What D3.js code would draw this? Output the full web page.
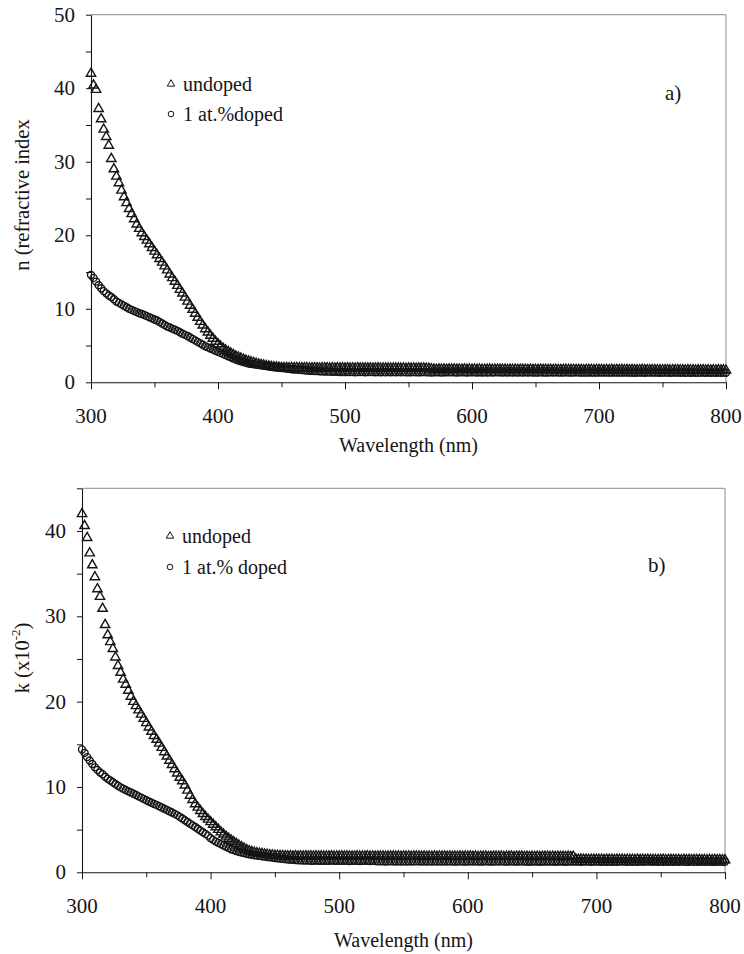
<!DOCTYPE html>
<html>
<head>
<meta charset="utf-8">
<script src="https://cdn.jsdelivr.net/npm/d3@7/dist/d3.min.js"></script>
<style>
body { margin: 0; background: #fff; }
</style>
</head>
<body>
<svg id="chart" width="744" height="954"></svg>
<script>
// measurement grid (nm), 2 nm step
var wavelength = d3.range(300, 801, 2);

// a) refractive index n
var nUndoped = [
/*300*/ 42.0,40.4,39.8,37.2,35.8,34.4,33.4,32.2,30.4,29.0,
/*320*/ 28.0,27.1,26.1,25.2,24.4,23.6,22.9,22.2,21.5,20.9,
/*340*/ 20.3,19.8,19.3,18.8,18.3,17.8,17.3,16.8,16.3,15.8,
/*360*/ 15.25,14.7,14.2,13.7,13.15,12.6,12.1,11.55,11.0,10.45,
/*380*/ 9.9,9.35,8.8,8.25,7.75,7.25,6.8,6.35,5.95,5.55,
/*400*/ 5.2,4.88,4.6,4.35,4.15,3.95,3.75,3.55,3.4,3.25,
/*420*/ 3.1,2.95,2.85,2.75,2.65,2.55,2.45,2.38,2.3,2.23,
/*440*/ 2.17,2.12,2.08,2.04,2.0,1.98,1.96,1.97,1.95,1.96,
/*460*/ 1.94,1.96,1.93,1.95,1.94,1.96,1.92,1.95,1.93,1.94,
/*480*/ 1.92,1.94,1.93,1.95,1.91,1.93,1.92,1.94,1.91,1.93,
/*500*/ 1.92,1.93,1.9,1.92,1.91,1.93,1.9,1.92,1.91,1.92,
/*520*/ 1.9,1.92,1.91,1.93,1.89,1.91,1.9,1.92,1.89,1.91,
/*540*/ 1.9,1.91,1.89,1.91,1.88,1.9,1.89,1.91,1.88,1.9,
/*560*/ 1.89,1.9,1.88,1.86,1.8,1.76,1.74,1.76,1.75,1.76,
/*580*/ 1.74,1.76,1.75,1.77,1.73,1.75,1.74,1.76,1.73,1.75,
/*600*/ 1.74,1.75,1.73,1.75,1.72,1.74,1.73,1.75,1.72,1.74,
/*620*/ 1.73,1.74,1.72,1.74,1.71,1.73,1.72,1.74,1.71,1.73,
/*640*/ 1.72,1.73,1.71,1.73,1.7,1.72,1.71,1.73,1.7,1.72,
/*660*/ 1.71,1.72,1.7,1.72,1.69,1.71,1.7,1.72,1.69,1.71,
/*680*/ 1.7,1.71,1.69,1.71,1.68,1.7,1.69,1.71,1.68,1.7,
/*700*/ 1.69,1.7,1.68,1.7,1.67,1.69,1.68,1.7,1.67,1.69,
/*720*/ 1.68,1.69,1.67,1.69,1.66,1.68,1.67,1.69,1.66,1.68,
/*740*/ 1.67,1.68,1.66,1.68,1.65,1.67,1.66,1.68,1.65,1.67,
/*760*/ 1.66,1.67,1.65,1.67,1.64,1.66,1.65,1.67,1.64,1.66,
/*780*/ 1.65,1.66,1.64,1.66,1.63,1.65,1.64,1.66,1.63,1.65,
/*800*/ 1.62
];
var nDoped = [
/*300*/ 14.6,14.2,13.7,13.2,12.8,12.4,12.1,11.8,11.6,11.3,
/*320*/ 11.0,10.8,10.6,10.4,10.2,10.0,9.85,9.7,9.55,9.4,
/*340*/ 9.3,9.15,9.0,8.85,8.7,8.55,8.4,8.2,8.0,7.8,
/*360*/ 7.6,7.45,7.3,7.15,7.0,6.8,6.6,6.45,6.3,6.1,
/*380*/ 5.9,5.7,5.5,5.3,5.1,4.9,4.75,4.6,4.45,4.3,
/*400*/ 4.15,4.0,3.85,3.7,3.55,3.4,3.25,3.1,2.95,2.85,
/*420*/ 2.75,2.65,2.55,2.5,2.45,2.4,2.35,2.3,2.25,2.2,
/*440*/ 2.15,2.1,2.05,2.01,1.98,1.94,1.9,1.86,1.82,1.78,
/*460*/ 1.75,1.72,1.69,1.66,1.63,1.6,1.58,1.56,1.54,1.52,
/*480*/ 1.5,1.48,1.47,1.46,1.45,1.44,1.43,1.42,1.41,1.4,
/*500*/ 1.39,1.41,1.38,1.4,1.37,1.39,1.38,1.4,1.37,1.39,
/*520*/ 1.38,1.4,1.37,1.39,1.36,1.38,1.37,1.39,1.36,1.38,
/*540*/ 1.37,1.39,1.36,1.38,1.35,1.37,1.36,1.38,1.35,1.37,
/*560*/ 1.36,1.38,1.35,1.37,1.34,1.36,1.35,1.37,1.34,1.36,
/*580*/ 1.36,1.37,1.35,1.37,1.34,1.36,1.35,1.37,1.34,1.36,
/*600*/ 1.35,1.37,1.34,1.36,1.33,1.35,1.34,1.36,1.33,1.35,
/*620*/ 1.35,1.36,1.34,1.36,1.33,1.35,1.34,1.36,1.33,1.35,
/*640*/ 1.34,1.36,1.33,1.35,1.32,1.34,1.33,1.35,1.32,1.34,
/*660*/ 1.34,1.35,1.33,1.35,1.32,1.34,1.33,1.35,1.32,1.34,
/*680*/ 1.33,1.35,1.32,1.34,1.31,1.33,1.32,1.34,1.31,1.33,
/*700*/ 1.33,1.34,1.32,1.34,1.31,1.33,1.32,1.34,1.31,1.33,
/*720*/ 1.32,1.34,1.31,1.33,1.3,1.32,1.31,1.33,1.3,1.32,
/*740*/ 1.32,1.33,1.31,1.33,1.3,1.32,1.31,1.33,1.3,1.32,
/*760*/ 1.31,1.33,1.3,1.32,1.29,1.31,1.3,1.32,1.29,1.31,
/*780*/ 1.31,1.32,1.3,1.32,1.29,1.31,1.3,1.32,1.29,1.31,
/*800*/ 1.3
];

// b) extinction coefficient k (x10^-2)
var kUndoped = [
/*300*/ 42.0,40.6,39.2,37.4,36.0,34.6,33.2,32.3,30.9,29.0,
/*320*/ 27.8,27.0,26.2,25.2,24.2,23.4,22.6,22.0,21.3,20.6,
/*340*/ 20.0,19.5,19.0,18.5,18.0,17.5,17.0,16.5,16.0,15.55,
/*360*/ 15.1,14.6,14.1,13.6,13.1,12.6,12.1,11.6,11.1,10.7,
/*380*/ 10.2,9.6,9.0,8.5,8.0,7.6,7.2,6.85,6.5,6.2,
/*400*/ 5.9,5.6,5.3,5.0,4.7,4.45,4.2,3.95,3.75,3.55,
/*420*/ 3.35,3.15,2.95,2.8,2.65,2.5,2.4,2.32,2.25,2.2,
/*440*/ 2.16,2.11,2.07,2.03,2.0,1.97,1.95,1.93,1.92,1.9,
/*460*/ 1.89,1.9,1.88,1.9,1.87,1.89,1.88,1.9,1.87,1.89,
/*480*/ 1.88,1.89,1.87,1.89,1.86,1.88,1.87,1.89,1.86,1.88,
/*500*/ 1.88,1.89,1.87,1.89,1.86,1.88,1.87,1.89,1.86,1.88,
/*520*/ 1.87,1.89,1.86,1.88,1.85,1.87,1.86,1.88,1.85,1.87,
/*540*/ 1.87,1.88,1.86,1.88,1.85,1.87,1.86,1.88,1.85,1.87,
/*560*/ 1.86,1.88,1.85,1.87,1.84,1.86,1.85,1.87,1.84,1.86,
/*580*/ 1.86,1.87,1.85,1.87,1.84,1.86,1.85,1.87,1.84,1.86,
/*600*/ 1.85,1.87,1.84,1.86,1.83,1.85,1.84,1.86,1.83,1.85,
/*620*/ 1.85,1.86,1.84,1.86,1.83,1.85,1.84,1.86,1.83,1.85,
/*640*/ 1.84,1.86,1.83,1.85,1.82,1.84,1.83,1.85,1.82,1.84,
/*660*/ 1.84,1.85,1.83,1.85,1.82,1.84,1.83,1.85,1.82,1.84,
/*680*/ 1.83,1.84,1.52,1.5,1.51,1.49,1.5,1.48,1.5,1.49,
/*700*/ 1.5,1.48,1.49,1.47,1.49,1.48,1.5,1.47,1.49,1.48,
/*720*/ 1.49,1.47,1.48,1.46,1.48,1.47,1.49,1.46,1.48,1.47,
/*740*/ 1.48,1.46,1.47,1.45,1.47,1.46,1.48,1.45,1.47,1.46,
/*760*/ 1.47,1.45,1.46,1.44,1.46,1.45,1.47,1.44,1.46,1.45,
/*780*/ 1.46,1.44,1.45,1.43,1.45,1.44,1.46,1.43,1.45,1.44,
/*800*/ 1.43
];
var kDoped = [
/*300*/ 14.4,14.0,13.5,13.1,12.7,12.3,12.0,11.7,11.5,11.2,
/*320*/ 10.95,10.75,10.55,10.35,10.15,9.95,9.8,9.65,9.5,9.35,
/*340*/ 9.2,9.05,8.9,8.75,8.6,8.45,8.3,8.15,8.0,7.9,
/*360*/ 7.75,7.6,7.45,7.3,7.15,7.0,6.85,6.7,6.5,6.3,
/*380*/ 6.1,5.9,5.7,5.5,5.3,5.1,4.9,4.7,4.5,4.3,
/*400*/ 4.0,3.8,3.6,3.45,3.3,3.15,3.0,2.85,2.7,2.6,
/*420*/ 2.5,2.4,2.32,2.25,2.18,2.12,2.06,2.0,1.96,1.92,
/*440*/ 1.88,1.84,1.8,1.76,1.72,1.68,1.64,1.6,1.57,1.54,
/*460*/ 1.51,1.48,1.46,1.44,1.42,1.4,1.39,1.38,1.37,1.36,
/*480*/ 1.36,1.37,1.35,1.36,1.34,1.36,1.35,1.37,1.34,1.36,
/*500*/ 1.35,1.36,1.34,1.36,1.33,1.35,1.34,1.36,1.33,1.35,
/*520*/ 1.34,1.35,1.33,1.35,1.32,1.3,1.28,1.3,1.27,1.29,
/*540*/ 1.28,1.3,1.27,1.29,1.26,1.28,1.27,1.29,1.26,1.28,
/*560*/ 1.28,1.29,1.27,1.29,1.26,1.28,1.27,1.29,1.26,1.28,
/*580*/ 1.27,1.29,1.26,1.28,1.25,1.27,1.26,1.28,1.25,1.27,
/*600*/ 1.27,1.28,1.26,1.28,1.25,1.27,1.26,1.28,1.25,1.27,
/*620*/ 1.27,1.28,1.26,1.28,1.25,1.27,1.26,1.28,1.25,1.27,
/*640*/ 1.26,1.28,1.25,1.27,1.24,1.26,1.25,1.27,1.24,1.26,
/*660*/ 1.26,1.27,1.25,1.27,1.24,1.26,1.25,1.27,1.24,1.26,
/*680*/ 1.26,1.27,1.25,1.27,1.24,1.26,1.25,1.27,1.24,1.26,
/*700*/ 1.25,1.27,1.24,1.26,1.23,1.25,1.24,1.26,1.23,1.25,
/*720*/ 1.25,1.26,1.24,1.26,1.23,1.25,1.24,1.26,1.23,1.25,
/*740*/ 1.25,1.26,1.24,1.26,1.23,1.25,1.24,1.26,1.23,1.25,
/*760*/ 1.24,1.26,1.23,1.25,1.22,1.24,1.23,1.25,1.22,1.24,
/*780*/ 1.24,1.25,1.23,1.25,1.22,1.24,1.23,1.25,1.22,1.24,
/*800*/ 1.23
];

var xTicks = [300,350,400,450,500,550,600,650,700,750,800];
var xLabels = [300,400,500,600,700,800];
var nTicks = [0,5,10,15,20,25,30,35,40,45,50];
var nLabels = [0,10,20,30,40,50];
var kTicks = [0,5,10,15,20,25,30,35,40,45];
var kLabels = [0,10,20,30,40];

var FONT = "Liberation Serif";
var ink = "#161415";
var svg = d3.select("#chart");

function addText(sel, x, y, size, str, anchor){
	return sel.append("text")
		.attr("x", x)
		.attr("y", y)
		.attr("font-family", FONT)
		.attr("font-size", size)
		.attr("fill", ink)
		.attr("text-anchor", anchor || "start")
		.text(str);
}

drawPanel = function(p){
	var x = d3.scaleLinear().domain([300, 800]).range([p.left, p.right]);
	var y = d3.scaleLinear().domain([0, p.yMax]).range([p.bottom, p.top]);
	var g = svg.append("g");

	//thin grey frame on the top and right
	g.append("path")
		.attr("d", "M" + x(300) + "," + y(p.yMax) + "H" + x(800) + "V" + y(0))
		.attr("fill", "none")
		.attr("stroke", "#8c8c8c")
		.attr("stroke-width", 1);

	//axes: lines and ticks from d3, labels written separately
	var xAxis = g.append("g")
		.attr("transform", "translate(0," + y(0) + ")")
		.call(d3.axisBottom(x).tickValues(xTicks).tickSize(7).tickSizeOuter(0).tickFormat(""));
	xAxis.selectAll(".tick").filter(function(d){ return d % 100 !== 0; }).select("line").attr("y2", 5);

	var yAxis = g.append("g")
		.attr("transform", "translate(" + x(300) + ",0)")
		.call(d3.axisLeft(y).tickValues(p.yTicks).tickSize(5).tickSizeOuter(0).tickFormat(""));

	[xAxis, yAxis].forEach(function(a){
		a.attr("color", ink);
		a.selectAll("text").remove();
		a.select(".domain").attr("stroke-width", 1.1);
	});

	xLabels.forEach(function(d){ addText(g, x(d), y(0) + 41, 21, d, "middle"); });
	p.yLabels.forEach(function(d){ addText(g, x(300) - 16, y(d) + 7, 21, d, "end"); });

	//data markers: open triangles and open circles
	var tri = d3.symbol().type(d3.symbolTriangle).size(38);
	g.append("g").selectAll("path")
		.data(wavelength.map(function(w, i){ return [w, p.undoped[i]]; }))
		.join("path")
		.attr("d", tri)
		.attr("transform", function(d){ return "translate(" + x(d[0]) + "," + y(d[1]) + ")"; })
		.attr("fill", "none")
		.attr("stroke", ink)
		.attr("stroke-width", 1.4);

	g.append("g").selectAll("circle")
		.data(wavelength.map(function(w, i){ return [w, p.doped[i]]; }))
		.join("circle")
		.attr("cx", function(d){ return x(d[0]); })
		.attr("cy", function(d){ return y(d[1]); })
		.attr("r", 3.5)
		.attr("fill", "none")
		.attr("stroke", ink)
		.attr("stroke-width", 1.4);

	//legend
	var lg = g.append("g").attr("transform", "translate(" + p.legend[0] + "," + p.legend[1] + ")");
	lg.append("path")
		.attr("d", d3.symbol().type(d3.symbolTriangle).size(24)())
		.attr("fill", "none").attr("stroke", ink).attr("stroke-width", 1);
	addText(lg, 12, 6.5, 20, "undoped");
	lg.append("circle").attr("cx", 0).attr("cy", p.legendGap).attr("r", 2.8)
		.attr("fill", "none").attr("stroke", ink).attr("stroke-width", 1);
	addText(lg, 12, p.legendGap + 7, 20, p.dopedLabel);

	addText(g, p.letter[0], p.letter[1], 21, p.letterText);

	//axis titles
	addText(g, (x(300) + x(800)) / 2, y(0) + p.xTitleGap, 20, "Wavelength (nm)", "middle");

	var yt = addText(g, 0, 0, 20.5, "", "middle")
		.attr("transform", "translate(" + p.yTitle[0] + "," + p.yTitle[1] + ") rotate(-90)");
	p.yTitleParts(yt);
}

drawPanel({
	left: 91, right: 726, top: 14.7, bottom: 382.3,
	yMax: 50, yTicks: nTicks, yLabels: nLabels, xTitleGap: 70,
	undoped: nUndoped, doped: nDoped,
	legend: [171, 84], legendGap: 30, dopedLabel: "1 at.%doped",
	letter: [665, 100], letterText: "a)",
	yTitle: [29, 195],
	yTitleParts: function(t){ t.text("n (refractive index"); }
});

drawPanel({
	left: 82, right: 725, top: 488.3, bottom: 872.3,
	yMax: 45, yTicks: kTicks, yLabels: kLabels, xTitleGap: 75,
	undoped: kUndoped, doped: kDoped,
	legend: [170, 536], legendGap: 31, dopedLabel: "1 at.% doped",
	letter: [648, 572], letterText: "b)",
	yTitle: [29, 658],
	yTitleParts: function(t){
		t.append("tspan").text("k (x10");
		t.append("tspan").attr("font-size", 13).attr("dy", -9).text("-2");
		t.append("tspan").attr("dy", 9).text(")");
	}
});
</script>
</body>
</html>
